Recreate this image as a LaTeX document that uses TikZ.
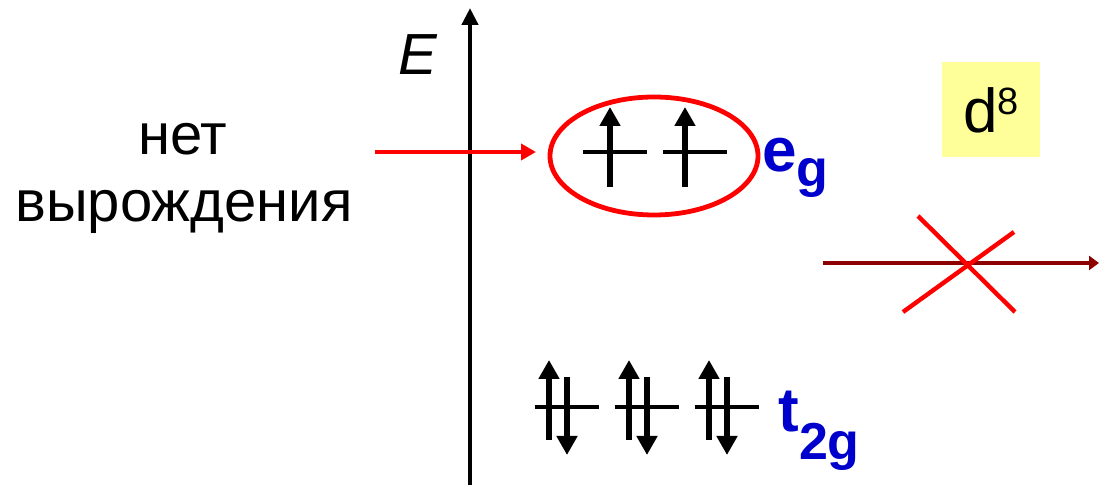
\documentclass[tikz,border=0pt]{standalone}
\usepackage{fontspec}
\setmainfont{Liberation Sans}
\usetikzlibrary{arrows.meta,shapes.geometric}
\definecolor{sinij}{RGB}{0,0,204}
\definecolor{zheltyj}{RGB}{255,255,153}
\definecolor{bordo}{RGB}{140,0,0}

\begin{document}
\begin{tikzpicture}[
    x=0.5pt,y=-0.5pt,
    tekst/.style={inner sep=0pt,anchor=base,font=\fontsize{29}{33}\selectfont},
    metka/.style={inner sep=0pt,anchor=base west,text=sinij,font=\bfseries\fontsize{31}{31}\selectfont},
    uroven/.style={line width=2pt},
    spin/.style={line width=3.4pt,-{Triangle[length=9.5pt,width=10pt]}},
    krest/.style={red,line width=2.2pt}]

  \useasboundingbox (0,0) rectangle (1099,485);

  %% ============================== os energii ================================
  \coordinate (os0) at (470,485);
  \coordinate (os1) at (470,8);
  \draw[line width=2.3pt,-{Triangle[length=8.5pt,width=8pt]}] (os0) -- (os1);
  \node[tekst,font=\itshape\fontsize{29}{33}\selectfont] (E) at (418,75) {E};

  %% ============================== podpis' ===================================
  \node[tekst] (net) at (183,155) {нет};
  \node[tekst] (vyr) at (184,222) {вырождения};
  \coordinate (st0) at (375,152);
  \coordinate (st1) at (536,152);
  \draw[red,line width=2.4pt,-{Triangle[length=7.5pt,width=8pt]}] (st0) -- (st1);

  %% ================================ e_g =====================================
  \node[draw=red,line width=2.4pt,ellipse,inner sep=0pt,
        minimum width=104pt,minimum height=59pt] (oval) at (654,156) {};
  \foreach \i/\c/\s in {1/615/610, 2/695/685} {
    \coordinate (eL\i) at ({\c-32},152);
    \coordinate (eR\i) at ({\c+32},152);
    \draw[uroven] (eL\i) -- (eR\i);
    \coordinate (eA\i) at (\s,187);
    \coordinate (eB\i) at (\s,107);
    \draw[spin] (eA\i) -- (eB\i);
  }
  \node[metka] (eg) at (762,172)
    {e\raisebox{-7.5pt}{\fontsize{26}{26}\selectfont g}};

  %% ================================ t_2g ====================================
  \foreach \i/\c in {1/567, 2/647, 3/727} {
    \coordinate (tL\i) at ({\c-32},407);
    \coordinate (tR\i) at ({\c+32},407);
    \draw[uroven] (tL\i) -- (tR\i);
    \coordinate (tA\i) at ({\c-18},440);
    \coordinate (tB\i) at ({\c-18},360);
    \draw[spin] (tA\i) -- (tB\i);
    \coordinate (tC\i) at ({\c},377);
    \coordinate (tD\i) at ({\c},455);
    \draw[spin] (tC\i) -- (tD\i);
  }
  \node[metka] (t2g) at (778,432)
    {t\raisebox{-14pt}{\fontsize{26}{26}\selectfont 2g}};

  %% ============================== d^8 =======================================
  \node[fill=zheltyj,inner sep=0pt,minimum width=49pt,minimum height=47.5pt,
        font=\fontsize{31}{31}\selectfont] (d8) at (991,110)
    {d\raisebox{9pt}{\fontsize{19}{19}\selectfont 8}};

  %% ========================== zapreshchennyj perehod ========================
  \coordinate (p0) at (823,263);
  \coordinate (p1) at (1099,263);
  \draw[bordo,line width=2.2pt,-{Triangle[length=5pt,width=7pt]}] (p0) -- (p1);
  \coordinate (k1) at (918,216);
  \coordinate (k2) at (1015,312);
  \coordinate (k3) at (1014,232);
  \coordinate (k4) at (903,312);
  \draw[krest] (k1) -- (k2);
  \draw[krest] (k3) -- (k4);

\end{tikzpicture}
\end{document}
